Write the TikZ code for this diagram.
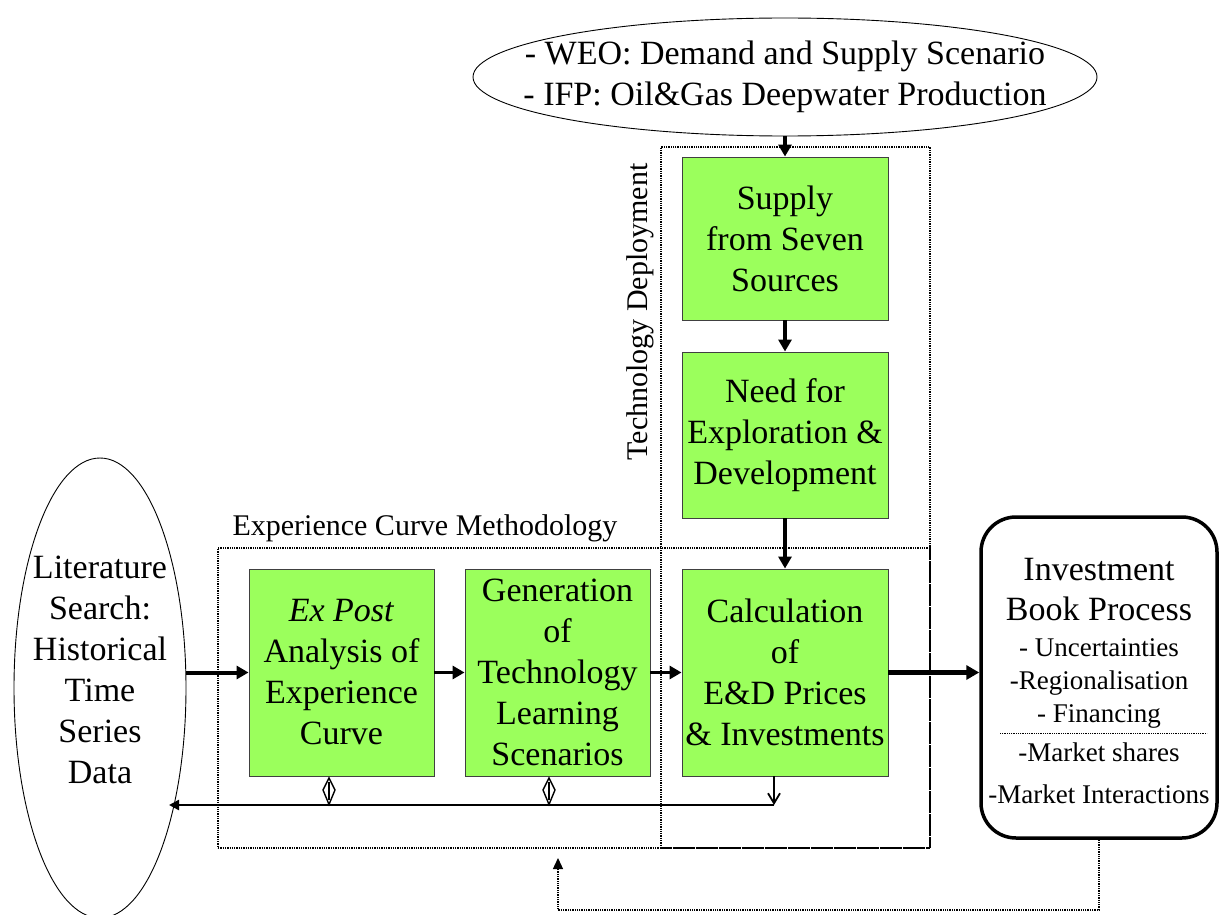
\documentclass[tikz,border=0pt]{standalone}
\usepackage{fontspec}
\setmainfont{Liberation Serif}
\usetikzlibrary{arrows.meta,shapes.geometric}
\definecolor{boxgreen}{RGB}{155,255,92}

\begin{document}
\begin{tikzpicture}[x=1pt,y=-1pt,
  greenbox/.style={draw=black!75, line width=0.9pt, fill=boxgreen, inner sep=0pt,
    align=center, font=\fontsize{34}{41}\selectfont},
  frame/.style={draw, densely dotted, line width=1.3pt, inner sep=0pt},
  oval/.style={draw, ellipse, line width=0.9pt, inner sep=0pt},
  bigtext/.style={align=center, font=\fontsize{34}{41}\selectfont, inner sep=0pt},
  listtext/.style={anchor=base, font=\fontsize{27}{32}\selectfont, inner sep=0pt},
  flow/.style={line width=3.4pt, -{Triangle[length=12pt,width=13pt]}},
  hollow/.style={line width=1.4pt, line join=miter},
]
\useasboundingbox (0,0) rectangle (1219,915);

% dotted grouping frames
\node[frame, minimum width=712pt, minimum height=300pt] (expframe) at (574,698) {};
\node[frame, minimum width=269pt, minimum height=701pt] (techframe) at (795.5,497.5) {};
\node[font=\fontsize{30}{36}\selectfont, inner sep=0pt] (explabel) at (425,528) {Experience Curve Methodology};
\node[font=\fontsize{30}{36}\selectfont, inner sep=0pt, rotate=90] (techlabel) at (640,312) {Technology Deployment};

% input ovals
\node[oval, minimum width=624pt, minimum height=118pt] (weo) at (785,77) {};
\node[bigtext] (weotext) at (785,77) {- WEO: Demand and Supply Scenario\\- IFP: Oil\&Gas Deepwater Production};
\node[oval, minimum width=172pt, minimum height=460pt] (lit) at (100,688) {};
\node[bigtext] (littext) at (100,670) {Literature\\Search:\\Historical\\Time\\Series\\Data};

% process boxes
\node[greenbox, minimum width=206pt, minimum height=163pt] (supply) at (785,238.5) {Supply\\from Seven\\Sources};
\node[greenbox, minimum width=206pt, minimum height=166pt] (need) at (785,435) {Need for\\Exploration \&\\Development};
\node[greenbox, minimum width=206pt, minimum height=207pt] (calc) at (785,672.5) {Calculation\\of\\E\&D Prices\\\& Investments};
\node[greenbox, minimum width=185pt, minimum height=207pt] (expost) at (341.5,672.5) {\textit{Ex Post}\\Analysis of\\Experience\\Curve};
\node[greenbox, minimum width=185pt, minimum height=207pt] (gen) at (557.5,672.5) {Generation\\of\\Technology\\Learning\\Scenarios};

% investment book process
\node[draw, rounded corners=35pt, line width=3.5pt, minimum width=236pt, minimum height=321pt] (inv) at (1099,677.5) {};
\node[anchor=base, font=\fontsize{34}{40}\selectfont, inner sep=0pt] (invA) at (1099,580) {Investment};
\node[anchor=base, font=\fontsize{34}{40}\selectfont, inner sep=0pt] (invB) at (1099,620) {Book Process};
\node[listtext] (invC) at (1099,656) {- Uncertainties};
\node[listtext] (invD) at (1099,689) {-Regionalisation};
\node[listtext] (invE) at (1099,722) {- Financing};
\draw[densely dotted, line width=0.8pt] (1000,733) -- (1207,733);
\node[listtext] (invF) at (1099,761) {-Market shares};
\node[listtext] (invG) at (1099,803) {-Market Interactions};

% main flow
\draw[flow] (weo.south) -- (supply.north);
\draw[flow] (supply.south) -- (need.north);
\draw[flow] (need.south) -- (calc.north);
\draw[flow, line width=4pt] (lit.east |- expost.west) -- (expost.west);
\draw[flow] (expost.east) -- (gen.west);
\draw[flow] (gen.east) -- (calc.west);
\draw[flow, line width=5pt, -{Triangle[length=13pt,width=14pt]}] (calc.east) -- (calc.east -| inv.west);

% return bus to the literature oval
\coordinate (busR) at (774,805);
\coordinate (busL) at (169,805);
\coordinate (d1) at (329,805);
\coordinate (d2) at (549,805);
\draw[line width=2.4pt, -{Triangle[length=10pt,width=10pt]}] (busR) -- (busL);
\draw[line width=1.8pt, -{Straight Barb[length=10pt,width=12pt]}] (calc.south -| busR) -- (busR);

% hollow two-way links between the experience boxes and the bus
\foreach \d/\b in {d1/expost, d2/gen}{
  \draw[hollow] (\b.south -| \d) ++(0,1.5) -- ++(6,12) -- ++(-6,14.5) -- ++(-6,-14.5) -- cycle;
  \draw[line width=1.1pt] (\b.south -| \d) ++(0,6) -- ++(0,18);
}

% feedback from the investment book
\coordinate (fbc) at (558,910);
\coordinate (fbtip) at (558,858);
\draw[densely dotted, line width=1.3pt, -{Triangle[length=11pt,width=10pt]}] (inv.south) |- (fbc) -- (fbtip);
\end{tikzpicture}
\end{document}
